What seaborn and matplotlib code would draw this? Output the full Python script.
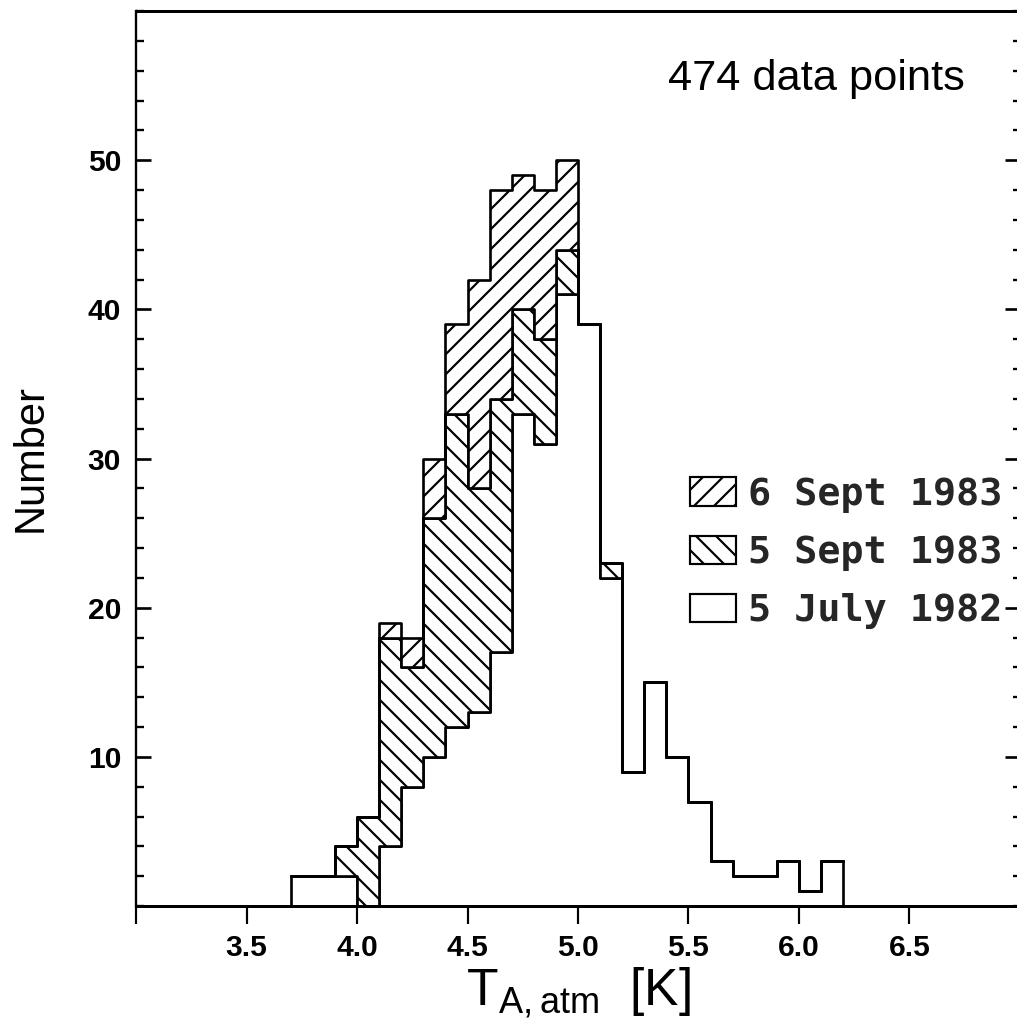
import numpy as np
import pandas as pd
import matplotlib
matplotlib.use("Agg")
import matplotlib.pyplot as plt
from matplotlib.patches import Patch
from matplotlib.ticker import FixedLocator, MultipleLocator
import seaborn as sns

# Lower edges of the 0.1 K antenna-temperature bins
bin_lower = [3.7, 3.8, 3.9, 4.0, 4.1, 4.2, 4.3, 4.4, 4.5, 4.6, 4.7, 4.8, 4.9,
             5.0, 5.1, 5.2, 5.3, 5.4, 5.5, 5.6, 5.7, 5.8, 5.9, 6.0, 6.1]
bin_width = 0.1

# Counts per bin for each observing night
counts_jul82 = [2, 2, 2, 0, 4, 8, 10, 12, 13, 17, 33, 31, 41,
                39, 22, 9, 15, 10, 7, 3, 2, 2, 3, 1, 3]
counts_sep5 = [0, 0, 2, 6, 14, 8, 16, 21, 15, 17, 7, 7, 3,
               0, 1, 0, 0, 0, 0, 0, 0, 0, 0, 0, 0]
counts_sep6 = [0, 0, 0, 0, 1, 2, 4, 6, 14, 14, 9, 10, 6,
               0, 0, 0, 0, 0, 0, 0, 0, 0, 0, 0, 0]

# Legend order (top of the stack first)
series_labels = ["6 Sept 1983", "5 Sept 1983", "5 July 1982"]
series_hatch = {"6 Sept 1983": "//", "5 Sept 1983": "\\\\", "5 July 1982": ""}

x_tick_values = [3.0, 3.5, 4.0, 4.5, 5.0, 5.5, 6.0, 6.5, 7.0]
x_tick_labels = ["", "3.5", "4.0", "4.5", "5.0", "5.5", "6.0", "6.5", ""]
y_tick_values = [10, 20, 30, 40, 50]

# Long-form table: one row per bin and night, weighted by its count
edges = [round(b, 2) for b in bin_lower] + [round(bin_lower[-1] + bin_width, 2)]
rows = []
for label, counts in zip(series_labels, [counts_sep6, counts_sep5, counts_jul82]):
    for lo, c in zip(bin_lower, counts):
        rows.append({"T": lo + bin_width / 2, "count": c, "night": label})
df = pd.DataFrame(rows)

sns.set_theme(style="white")
plt.rcParams["font.family"] = ["Liberation Sans", "DejaVu Sans"]
plt.rcParams["hatch.linewidth"] = 1.3
plt.rcParams["hatch.color"] = "black"

DPI = 120
fig = plt.figure(figsize=(1018 / DPI, 1023 / DPI), dpi=DPI)
fig.patch.set_facecolor("white")
ax = fig.add_axes([136 / 1018, 1 - 906 / 1023, (1020 - 136) / 1018, (906 - 11) / 1023])
ax.set_facecolor("white")

# With multiple="stack" the last hue level sits at the bottom of the stack
sns.histplot(
    data=df, x="T", weights="count", hue="night", hue_order=series_labels,
    multiple="stack", bins=edges, element="step", fill=True,
    palette=["white"] * 3, edgecolor="black", linewidth=1.6, alpha=1,
    legend=False, ax=ax,
)

# seaborn draws the layers in reverse hue order
for coll, label in zip(ax.collections, list(reversed(series_labels))):
    coll.set_hatch(series_hatch[label])
    coll.set_edgecolor("black")
    coll.set_facecolor("white")

ax.set_xlim(3.0, 7.0)
ax.set_ylim(0, 60)

ax.xaxis.set_major_locator(FixedLocator(x_tick_values))
ax.set_xticklabels(x_tick_labels)
ax.yaxis.set_major_locator(FixedLocator(y_tick_values))
ax.yaxis.set_minor_locator(MultipleLocator(2))

ax.tick_params(axis="x", which="major", direction="out", length=11, width=1.3,
               pad=6, labelsize=18, bottom=True, top=False, color="black")
ax.tick_params(axis="y", which="major", direction="in", length=9, width=1.6,
               pad=9, labelsize=18, left=True, right=True, color="black")
ax.tick_params(axis="y", which="minor", direction="in", length=4.5, width=1.4,
               left=True, right=True, color="black")
for lab in ax.get_xticklabels() + ax.get_yticklabels():
    lab.set_fontweight("bold")
    lab.set_color("black")

for side in ["left", "bottom", "top", "right"]:
    ax.spines[side].set_visible(True)
    ax.spines[side].set_color("black")
ax.spines["left"].set_linewidth(1.4)
ax.spines["bottom"].set_linewidth(1.8)
ax.spines["top"].set_linewidth(1.8)
ax.spines["right"].set_linewidth(1.4)

ax.set_xlabel(r"$\mathregular{T_{A,atm}}$  [K]", fontsize=31, color="black", labelpad=2)
ax.set_ylabel("Number", fontsize=25, color="black", labelpad=22)

ax.text(0.602, 0.912, "474 data points", transform=ax.transAxes,
        fontsize=26, color="black", ha="left", va="baseline")

handles = [Patch(facecolor="white", edgecolor="black", linewidth=1.3,
                 hatch=series_hatch[lab]) for lab in series_labels]
ax.legend(handles, series_labels, loc="upper left",
          bbox_to_anchor=(690 / 1018, 1 - 477 / 1023), bbox_transform=fig.transFigure,
          frameon=False, borderpad=0, borderaxespad=0,
          handlelength=1.2, handleheight=0.76, handletextpad=0.3,
          labelspacing=0.58,
          prop={"family": "DejaVu Sans Mono", "size": 23, "weight": "bold"})

fig.savefig("out.png", dpi=DPI, facecolor="white")
